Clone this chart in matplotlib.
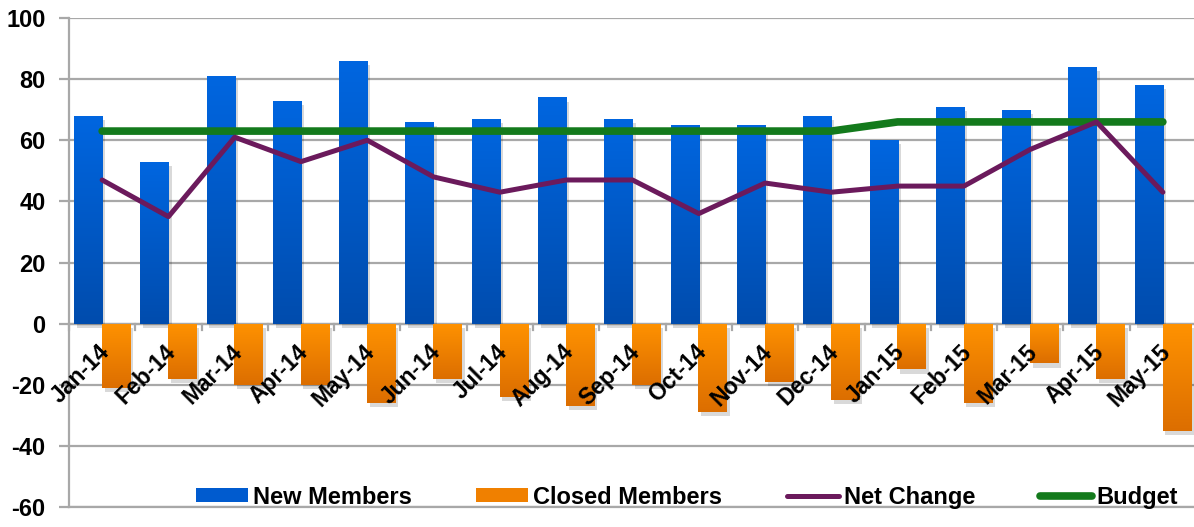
import numpy as np
import matplotlib
matplotlib.use("Agg")
import matplotlib.pyplot as plt
from matplotlib import patheffects as pe
from matplotlib.lines import Line2D
from matplotlib.patches import Patch
from matplotlib.colors import LinearSegmentedColormap

months = ["Jan-14", "Feb-14", "Mar-14", "Apr-14", "May-14", "Jun-14", "Jul-14",
          "Aug-14", "Sep-14", "Oct-14", "Nov-14", "Dec-14", "Jan-15", "Feb-15",
          "Mar-15", "Apr-15", "May-15"]
new_members = [68, 53, 81, 73, 86, 66, 67, 74, 67, 65, 65, 68, 60, 71, 70, 84, 78]
closed_members = [-21, -18, -20, -20, -26, -18, -24, -27, -20, -29, -19, -25, -15, -26, -13, -18, -35]
net_change = [47, 35, 61, 53, 60, 48, 43, 47, 47, 36, 46, 43, 45, 45, 57, 66, 43]
budget = [63, 63, 63, 63, 63, 63, 63, 63, 63, 63, 63, 63, 66, 66, 66, 66, 66]
y_ticks = [-60, -40, -20, 0, 20, 40, 60, 80, 100]

plt.rcParams["axes.unicode_minus"] = False
FONT = "Liberation Sans"
W, H = 1194, 527
fig = plt.figure(figsize=(W / 100, H / 100), dpi=100)
ax = fig.add_axes([69 / W, 20 / H, (1196 - 69) / W, 489 / H])

x = np.arange(len(months))
bw = 0.43
off = 0.21

blue_cmap = LinearSegmentedColormap.from_list("b", ["#004CAD", "#0066E0"])
orange_cmap = LinearSegmentedColormap.from_list("o", ["#DC6E00", "#FF9200"])

shadow = [pe.SimplePatchShadow(offset=(2, -3), alpha=0.15, shadow_rgbFace="#000000"), pe.Normal()]
bars_b = ax.bar(x - off, new_members, width=bw, color="#0058C8", zorder=3, path_effects=shadow)
bars_o = ax.bar(x + off, closed_members, width=bw, color="#F08000", zorder=3, path_effects=shadow)

grad = np.linspace(0, 1, 256).reshape(-1, 1)
for bars, cmap in ((bars_b, blue_cmap), (bars_o, orange_cmap)):
    for p in bars:
        x0, y0 = p.get_x(), p.get_y()
        w, h = p.get_width(), p.get_height()
        ylo, yhi = min(y0, y0 + h), max(y0, y0 + h)
        im = ax.imshow(grad, extent=[x0, x0 + w, ylo, yhi], origin="lower",
                       aspect="auto", cmap=cmap, zorder=3.5, interpolation="bicubic")
        im.set_clip_path(p)

ax.plot(x, net_change, color="#6B1A5C", lw=3.6, zorder=5, solid_capstyle="round")
ax.plot(x, budget, color="#137A1C", lw=5.5, zorder=4.5, solid_capstyle="round")

ax.set_xlim(-0.5, len(months) - 0.5)
ax.set_ylim(-60, 100)
ax.set_yticks(y_ticks)
ax.yaxis.grid(True, color="#A8A8A8", lw=1.6, zorder=0)
ax.set_axisbelow(True)
ax.set_xticks([])
for s in ("top", "right"):
    ax.spines[s].set_visible(False)
ax.spines["left"].set_color("#A8A8A8")
ax.spines["left"].set_linewidth(1.6)
ax.spines["bottom"].set_color("#A8A8A8")
ax.spines["bottom"].set_linewidth(1.6)
ax.tick_params(axis="y", length=7, width=1.6, color="#A8A8A8", pad=10)
for lab in ax.get_yticklabels():
    lab.set_fontfamily(FONT)
    lab.set_fontweight("bold")
    lab.set_fontsize(17)

# category boundary ticks on the zero line
ax.axhline(0, color="#A8A8A8", lw=1.6, zorder=2)
for b in np.arange(len(months) + 1) - 0.5:
    ax.plot([b, b], [0, -2.2], color="#A8A8A8", lw=1.6, zorder=2, clip_on=False)

for i, m in enumerate(months):
    ax.text(i + 0.18, -5.5, m, rotation=45, ha="right", va="top",
            fontfamily=FONT, fontweight="bold", fontsize=16.5, zorder=6)

handles = [Patch(facecolor="#005BCF", edgecolor="none"),
           Patch(facecolor="#F08000", edgecolor="none"),
           Line2D([0], [0], color="#6B1A5C", lw=3.6, solid_capstyle="round"),
           Line2D([0], [0], color="#137A1C", lw=5.5, solid_capstyle="round")]
labels = ["New Members", "Closed Members", "Net Change", "Budget"]
leg = ax.legend(handles, labels, ncol=4, frameon=False, loc="center left",
                bbox_to_anchor=((196 - 69) / 1127, 0.02), handlelength=2.2,
                handleheight=0.55, handletextpad=0.2, columnspacing=2.75,
                borderpad=0, borderaxespad=0,
                prop={"family": FONT, "weight": "bold", "size": 17})

fig.savefig("out.png", dpi=100)
